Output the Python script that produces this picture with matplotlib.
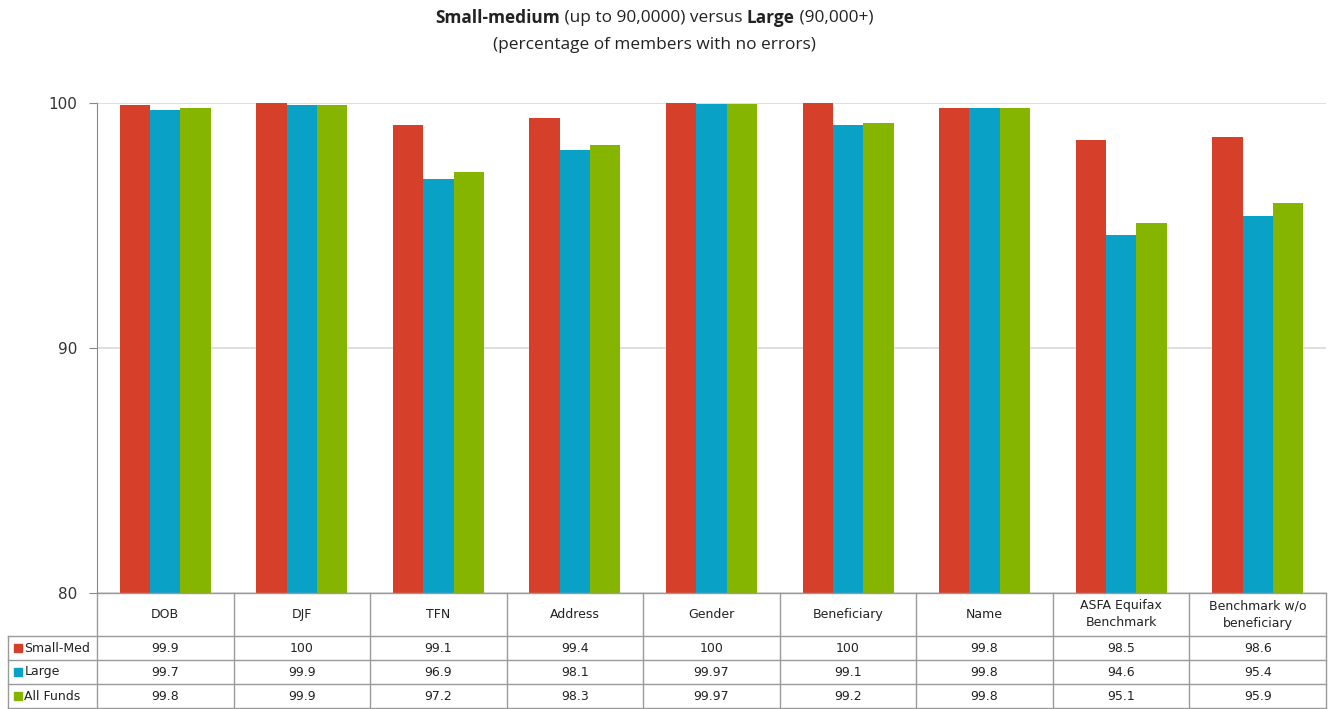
import numpy as np
import matplotlib.pyplot as plt
from matplotlib.transforms import blended_transform_factory

categories = ["DOB", "DJF", "TFN", "Address", "Gender", "Beneficiary", "Name",
              "ASFA Equifax\nBenchmark", "Benchmark w/o\nbeneficiary"]
series_names = ["Small-Med", "Large", "All Funds"]
small_med = [99.9, 100, 99.1, 99.4, 100, 100, 99.8, 98.5, 98.6]
large = [99.7, 99.9, 96.9, 98.1, 99.97, 99.1, 99.8, 94.6, 95.4]
all_funds = [99.8, 99.9, 97.2, 98.3, 99.97, 99.2, 99.8, 95.1, 95.9]
yticks = [80, 90, 100]

colors = ["#d63f2a", "#0aa1c7", "#86b500"]
series = [small_med, large, all_funds]

plt.rcParams['font.family'] = ['DejaVu Sans']

fig = plt.figure(figsize=(13.3, 7.09), dpi=100)
ax = fig.add_axes([97 / 1330, 1 - 593 / 709, (1326 - 97) / 1330, 490 / 709])

x = np.arange(len(categories))
bw = 0.222
for i, (vals, c) in enumerate(zip(series, colors)):
    ax.bar(x + (i - 1) * bw, vals, bw, color=c, zorder=2)

ax.set_xlim(-0.5, len(categories) - 0.5)
ax.set_ylim(80, 100)
ax.set_yticks(yticks)
ax.set_yticklabels([str(t) for t in yticks], fontsize=11, color="#333333")
ax.tick_params(axis="y", length=6, color="#888888", pad=8)
ax.set_xticks([])
ax.grid(axis="y", color="#d9d9d9", lw=1.2, zorder=0)
for s in ["top", "right", "bottom"]:
    ax.spines[s].set_visible(False)
ax.spines["left"].set_color("#888888")

# table below the axis: x in data units, y in axes fraction
tr = blended_transform_factory(ax.transData, ax.transAxes)
line_kw = dict(color="#9a9a9a", lw=1.0, transform=tr, clip_on=False)
px = 1 / 490.0
y_head = 0.0
y_rows = [-43 * px, -67 * px, -91 * px, -115 * px]
x_left = -0.5 - 89 / 136.6
x_right = len(categories) - 0.5

ax.plot([-0.5, x_right], [y_head, y_head], **line_kw)
for yy in y_rows:
    ax.plot([x_left, x_right], [yy, yy], **line_kw)
for b in np.arange(-0.5, len(categories)):
    ax.plot([b, b], [y_head, y_rows[-1]], **line_kw)
ax.plot([x_left, x_left], [y_rows[0], y_rows[-1]], **line_kw)

txt_kw = dict(transform=tr, ha="center", va="center", fontsize=9,
              color="#222222", clip_on=False)
for j, cat in enumerate(categories):
    ax.text(j, (y_head + y_rows[0]) / 2, cat, linespacing=1.4, **txt_kw)
    for r, vals in enumerate(series):
        ax.text(j, (y_rows[r] + y_rows[r + 1]) / 2, f"{vals[j]:g}", **txt_kw)

for r, (name, c) in enumerate(zip(series_names, colors)):
    yc = (y_rows[r] + y_rows[r + 1]) / 2
    ax.plot([x_left + 0.07], [yc], marker="s", ms=6, color=c, transform=tr,
            clip_on=False, ls="none")
    ax.text(x_left + 0.12, yc, name, transform=tr, ha="left", va="center",
            fontsize=9, color="#222222", clip_on=False)

# two-line title with bold pieces
fig.canvas.draw()
renderer = fig.canvas.get_renderer()
pieces = [("Small-medium", "bold"), (" (up to 90,0000) versus ", "normal"),
          ("Large", "bold"), (" (90,000+)", "normal")]
ty = 1 - 18 / 709
texts = [fig.text(0, ty, p, fontsize=12.4, fontweight=w, family="Open Sans",
                  color="#222222", va="center", ha="left") for p, w in pieces]
widths = [t.get_window_extent(renderer).width for t in texts]
start = 654 - sum(widths) / 2
for t, w in zip(texts, widths):
    t.set_x(start / 1330)
    start += w
fig.text(654 / 1330, 1 - 45 / 709, "(percentage of members with no errors)",
         fontsize=12.4, family="Open Sans", color="#222222", ha="center", va="center")

fig.savefig("out.png", dpi=100)
